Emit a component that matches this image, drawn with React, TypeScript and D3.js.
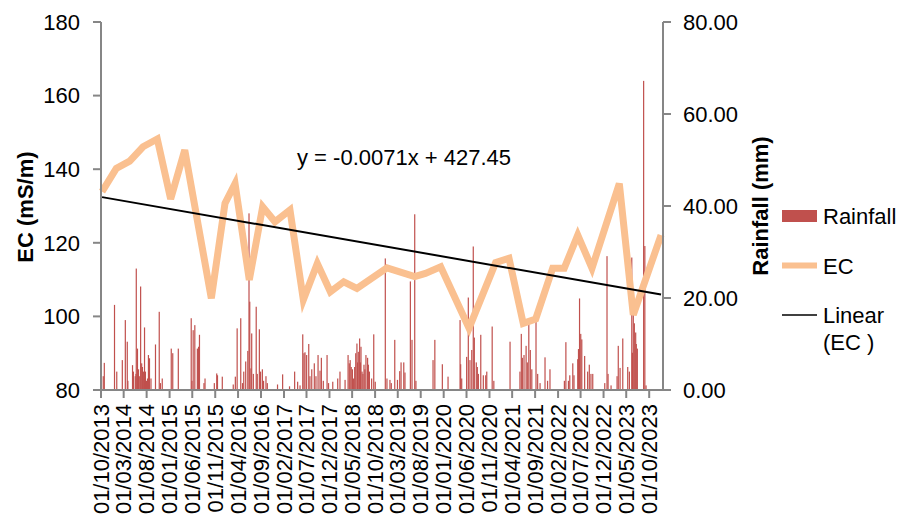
import React from 'react';
import * as d3 from 'd3';

// EC samples (mS/m)
const ecDates = [
  '2013-10-08', '2014-01-11', '2014-04-10', '2014-07-08', '2014-10-11', '2015-01-08', '2015-04-12',
  '2015-10-06', '2016-01-05', '2016-03-12', '2016-06-15', '2016-09-12', '2016-12-03', '2017-03-13',
  '2017-06-10', '2017-09-11', '2017-12-07', '2018-03-06', '2018-06-02', '2018-12-19', '2019-06-22',
  '2019-09-01', '2019-12-12', '2020-06-18', '2020-12-12', '2021-03-11', '2021-06-14', '2021-09-05',
  '2021-12-27', '2022-03-14', '2022-06-12', '2022-09-15', '2023-03-16', '2023-06-17', '2023-12-19',
];
const ecValues = [
  133.9, 140.2, 142.2, 146.1, 148.2, 131.9, 145.2,
  104.9, 130.7, 136.1, 109.9, 129.8, 125.7, 128.9,
  104.5, 114.4, 106.7, 109.4, 107.6, 113.2, 110.8,
  111.7, 113.5, 96.8, 114.6, 115.8, 98.1, 99.3,
  113.1, 113.1, 122.1, 113.1, 136.1, 100.4, 122.1,
];

// daily rainfall (mm), days counted from 01/10/2013, dry days left out
const rainDays = [
  15, 22, 90, 105, 142, 162, 175, 179, 210, 216, 228, 233, 235, 243, 250, 255, 264, 271, 276, 284, 290, 296,
  303, 310, 316, 323, 333, 363, 388, 396, 408, 468, 478, 515, 601, 606, 614, 625, 642, 650, 656, 686, 693,
  755, 771, 776, 808, 881, 895, 907, 931, 943, 951, 964, 978, 986, 991, 999, 1004, 1015, 1034, 1041, 1055,
  1063, 1075, 1083, 1099, 1108, 1176, 1210, 1256, 1290, 1310, 1326, 1344, 1352, 1359, 1370, 1384, 1392,
  1404, 1421, 1432, 1446, 1459, 1468, 1481, 1506, 1516,
  1544, 1577, 1592, 1626, 1646, 1654, 1660, 1667, 1675, 1683, 1690, 1697, 1705, 1709, 1714, 1723, 1728,
  1732, 1739, 1745, 1752, 1758, 1765, 1776, 1781, 1788, 1803, 1817, 1827, 1894, 1905, 1925, 1934, 1957,
  1975, 1990, 1999, 2017, 2025, 2061, 2072, 2090, 2098, 2212, 2224,
  2274, 2312, 2392, 2396, 2403, 2436, 2447, 2458, 2470, 2480, 2487, 2500, 2507, 2514, 2530, 2547, 2563,
  2570, 2606, 2617, 2725, 2791, 2800, 2807, 2818, 2832, 2840, 2850, 2860, 2870, 2898, 2909, 2925, 2958, 2975,
  2991, 3087, 3097, 3114, 3123, 3143, 3151, 3176, 3181, 3188, 3196, 3203, 3222, 3242, 3253, 3264, 3276,
  3356, 3371, 3378, 3398, 3438, 3446, 3458, 3476, 3509, 3520, 3536, 3540, 3546, 3553, 3562, 3566, 3573,
  3615, 3623, 3631,
];
const rainMm = [
  3.0, 5.9, 18.5, 4.0, 6.5, 15.2, 10.5, 2.0, 5.4, 4.0, 3.0, 3.5, 26.4, 9.0, 4.5, 3.0, 22.5, 5.8, 5.0, 4.0, 13.6, 4.0,
  2.0, 2.5, 7.6, 6.9, 2.5, 9.9, 17.0, 1.5, 2.5, 9.0, 8.0, 9.0, 15.6, 2.0, 13.0, 14.1, 9.0, 9.4, 12.0, 1.5, 2.5,
  1.5, 3.6, 3.2, 2.9, 1.2, 2.9, 13.4, 15.6, 1.5, 4.0, 6.2, 8.5, 38.4, 19.2, 4.7, 12.3, 3.5, 18.1, 3.5, 13.2,
  4.0, 4.5, 2.0, 3.0, 1.5, 1.2, 3.4, 0.8, 4.0, 1.8, 1.0, 12.1, 8.0, 8.2, 7.6, 10.0, 3.0,
  4.5, 5.8, 3.0, 7.6, 4.2, 7.0, 2.0, 7.6, 1.5,
  1.8, 2.5, 4.0, 2.2, 7.6, 5.8, 6.5, 5.0, 4.5, 2.5, 5.0, 8.0, 10.1, 6.0, 8.3, 11.2, 6.0,
  9.4, 4.0, 3.5, 5.5, 4.5, 7.6, 7.0, 5.5, 4.0, 2.5, 12.1, 1.8, 28.6, 2.5, 2.2, 1.5, 10.9,
  2.2, 4.1, 6.0, 6.0, 3.8, 23.6, 10.9, 38.2, 2.0, 6.5, 10.9,
  5.6, 2.9, 15.2, 5.6, 2.5, 7.2, 20.1, 6.5, 8.7, 31.2, 11.4, 6.0, 5.0, 3.5, 12.0, 3.2, 3.2,
  4.0, 13.8, 2.0, 10.5, 4.0, 12.2, 7.0, 7.6, 9.6, 6.0, 14.5, 8.7, 4.5, 17.0, 3.5, 1.5, 7.1, 2.0,
  4.5, 2.0, 10.4, 2.0, 3.2, 5.8, 3.2, 6.7, 8.9, 19.9, 12.2, 11.0, 7.4, 4.0, 5.5, 3.5, 3.5,
  1.5, 29.1, 3.5, 1.0, 3.0, 9.6, 4.8, 11.2, 5.0, 4.0, 28.8, 8.1, 16.3, 14.5, 12.5, 10.0, 9.0,
  67.2, 31.3, 1.0,
];

const ecTicks = [80, 100, 120, 140, 160, 180];
const rainTicks = [0, 20, 40, 60, 80];

// Excel linear trendline on EC: y = -0.0071x + 427.45 (x = Excel serial date)
const trendSlope = -0.0071;
const trendIntercept = 427.45;

const startDate = '2013-10-01';
const endDate = '2024-01-01';

const font = "'Liberation Sans', Arial, sans-serif";

const App: React.FC = () => {
  const parse = d3.timeParse('%Y-%m-%d');
  const fmt = d3.timeFormat('%d/%m/%Y');
  const t0 = parse(startDate)!;
  const t1 = parse(endDate)!;

  const left = 101, right = 663, top = 22, bottom = 390;

  const x = d3.scaleTime().domain([t0, t1]).range([left, right]);
  const yEc = d3.scaleLinear().domain([80, 180]).range([bottom, top]);
  const yRain = d3.scaleLinear().domain([0, 80]).range([bottom, top]);

  const xTicks = d3.timeMonth.range(t0, d3.timeDay.offset(parse('2023-10-01')!, 1), 5);

  const ec = ecDates.map((d, i) => ({ date: parse(d)!, v: ecValues[i] }));
  const line = d3.line<{ date: Date; v: number }>()
    .x(d => x(d.date))
    .y(d => yEc(d.v));

  const excelSerial = (d: Date) =>
    (Date.UTC(d.getFullYear(), d.getMonth(), d.getDate()) - Date.UTC(1899, 11, 30)) / 86400000;
  const trendEnds = [ec[0].date, ec[ec.length - 1].date].map(d => ({
    date: d,
    v: trendSlope * excelSerial(d) + trendIntercept,
  }));

  const rain = rainDays.map((n, i) => ({ date: d3.timeDay.offset(t0, n), mm: rainMm[i] }));

  const axisColor = '#868686';

  return (
    <svg width={900} height={518} style={{ position: 'absolute', left: 0, top: 0, fontFamily: font }}>
      <rect width={900} height={518} fill="#fff" />

      {/* rainfall bars */}
      <g fill="#C0504D">
        {rain.map((d, i) => (
          <rect key={i} x={x(d.date) - 0.6} width={1.2} y={yRain(d.mm)} height={bottom - yRain(d.mm)} />
        ))}
      </g>

      {/* EC line */}
      <path d={line(ec)!} fill="none" stroke="#FAC090" strokeWidth={7} strokeLinejoin="miter" />

      {/* trendline */}
      <path d={line(trendEnds)!} fill="none" stroke="#000" strokeWidth={2} />

      {/* axes */}
      <g stroke={axisColor} strokeWidth={2}>
        <line x1={left} x2={left} y1={top} y2={bottom + 1} />
        <line x1={right} x2={right} y1={top} y2={bottom + 1} />
        <line x1={left} x2={right} y1={bottom} y2={bottom} />
        {ecTicks.map(v => (
          <line key={'l' + v} x1={left - 8} x2={left} y1={yEc(v)} y2={yEc(v)} />
        ))}
        {rainTicks.map(v => (
          <line key={'r' + v} x1={right} x2={right + 8} y1={yRain(v)} y2={yRain(v)} />
        ))}
        {xTicks.map((d, i) => (
          <line key={'x' + i} x1={x(d)} x2={x(d)} y1={bottom} y2={bottom + 8} />
        ))}
      </g>

      <g fontSize={22} fill="#000">
        {ecTicks.map(v => (
          <text key={v} x={80} y={yEc(v)} dy="0.35em" textAnchor="end">{v}</text>
        ))}
        {rainTicks.map(v => (
          <text key={v} x={683} y={yRain(v)} dy="0.35em" textAnchor="start">{v.toFixed(2)}</text>
        ))}
        {xTicks.map((d, i) => (
          <text key={i} transform={`translate(${x(d)},404) rotate(-90)`} dy="0.35em" textAnchor="end">
            {fmt(d)}
          </text>
        ))}
      </g>

      {/* axis titles */}
      <text transform="translate(33,207) rotate(-90)" textAnchor="middle" fontSize={22} fontWeight="bold">
        EC (mS/m)
      </text>
      <text transform="translate(768,206) rotate(-90)" textAnchor="middle" fontSize={22} fontWeight="bold">
        Rainfall (mm)
      </text>

      {/* trend equation */}
      <text x={297} y={165} fontSize={22}>y = -0.0071x + 427.45</text>

      {/* legend */}
      <g fontSize={22}>
        <rect x={782} y={210} width={35} height={12} fill="#C0504D" />
        <text x={823} y={224}>Rainfall</text>
        <line x1={782} x2={817} y1={265.5} y2={265.5} stroke="#FAC090" strokeWidth={6} />
        <text x={823} y={274}>EC</text>
        <line x1={782} x2={817} y1={315} y2={315} stroke="#000" strokeWidth={1.5} />
        <text x={823} y={323}>Linear</text>
        <text x={823} y={350}>(EC )</text>
      </g>
    </svg>
  );
};

export default App;
